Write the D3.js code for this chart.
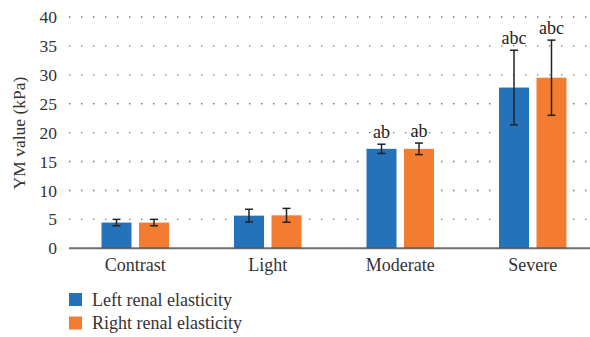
<!DOCTYPE html>
<html>
<head>
<meta charset="utf-8">
<script src="https://cdn.jsdelivr.net/npm/d3@7"></script>
<style>
  html, body { margin: 0; padding: 0; background: #fff; }
  svg { display: block; }
</style>
</head>
<body>
<svg id="chart" width="590" height="337"></svg>
<script>
// Young's modulus of the kidneys by group
const categories = ["Contrast", "Light", "Moderate", "Severe"];
const seriesNames = ["Left renal elasticity", "Right renal elasticity"];
const leftValues = [4.45, 5.65, 17.2, 27.8];
const leftErrors = [0.55, 1.1, 0.8, 6.45];
const rightValues = [4.45, 5.7, 17.2, 29.5];
const rightErrors = [0.55, 1.2, 1.0, 6.5];
const leftMarks = ["", "", "ab", "abc"];
const rightMarks = ["", "", "ab", "abc"];
const yTicks = [0, 5, 10, 15, 20, 25, 30, 35, 40];
const colors = ["#2473BA", "#F47C30"];

const FONT = '"Liberation Serif", "Times New Roman", serif';
const TEXT = "#333";

const svg = d3.select("#chart");
const plotTop = 17, plotBottom = 248.3;

const x = d3.scaleBand().domain(categories).range([69, 599]);
const y = d3.scaleLinear().domain([0, 40]).range([plotBottom, plotTop]);
const barW = 30, gap = 7.5;

// dotted gridlines
svg.append("g").selectAll("line").data(yTicks.filter(d => d > 0)).join("line")
  .attr("x1", 69).attr("x2", 590)
  .attr("y1", d => y(d)).attr("y2", d => y(d))
  .attr("stroke", "#777").attr("stroke-width", 1.4)
  .attr("stroke-dasharray", "1.4,10.6");

// y tick labels
const yAxis = d3.axisLeft(y).tickValues(yTicks).tickSize(0).tickPadding(0);
const gy = svg.append("g").attr("transform", "translate(57,0)").call(yAxis);
gy.select(".domain").remove();
gy.selectAll("text").attr("font-size", 17.5).attr("fill", TEXT)
  .style("font-family", FONT);

// bars
const series = [
  { vals: leftValues, errs: leftErrors, marks: leftMarks, offset: -(gap / 2 + barW) },
  { vals: rightValues, errs: rightErrors, marks: rightMarks, offset: gap / 2 }
];
series.forEach((s, si) => {
  const g = svg.append("g");
  categories.forEach((c, i) => {
    const bx = x(c) + x.bandwidth() / 2 + s.offset;
    g.append("rect").attr("x", bx).attr("width", barW)
      .attr("y", y(s.vals[i])).attr("height", plotBottom - y(s.vals[i]))
      .attr("fill", colors[si]);
  });
});

// x axis line
svg.append("line").attr("x1", 69).attr("x2", 590)
  .attr("y1", plotBottom).attr("y2", plotBottom)
  .attr("stroke", "#555").attr("stroke-width", 2).attr("opacity", 0.85);

// error bars and significance marks
series.forEach((s) => {
  const g = svg.append("g");
  categories.forEach((c, i) => {
    const ex = x(c) + x.bandwidth() / 2 + s.offset + barW / 2;
    const top = y(s.vals[i] + s.errs[i]);
    const bot = y(s.vals[i] - s.errs[i]);
    g.append("line").attr("x1", ex).attr("x2", ex).attr("y1", top).attr("y2", bot)
      .attr("stroke", "#222").attr("stroke-width", 1.5);
    [top, bot].forEach(yy => g.append("line")
      .attr("x1", ex - 4).attr("x2", ex + 4).attr("y1", yy).attr("y2", yy)
      .attr("stroke", "#222").attr("stroke-width", 1.5));
    if (s.marks[i]) {
      g.append("text").attr("x", ex).attr("y", top - 6.5)
        .attr("text-anchor", "middle").attr("font-size", 18).attr("fill", "#222")
        .style("font-family", FONT)
        .text(s.marks[i]);
    }
  });
});

// category labels
svg.append("g").selectAll("text").data(categories).join("text")
  .attr("x", d => x(d) + x.bandwidth() / 2).attr("y", 271)
  .attr("text-anchor", "middle").attr("font-size", 18).attr("fill", TEXT)
  .style("font-family", FONT)
  .text(d => d);

// y axis title
svg.append("text").attr("transform", "translate(25,133) rotate(-90)")
  .attr("text-anchor", "middle").attr("font-size", 17.5).attr("fill", TEXT)
  .style("font-family", FONT)
  .text("YM value (kPa)");

// legend
const lg = svg.append("g");
seriesNames.forEach((n, i) => {
  const ly = 293 + i * 23.5;
  lg.append("rect").attr("x", 69).attr("y", ly).attr("width", 13).attr("height", 13).attr("fill", colors[i]);
  lg.append("text").attr("x", 92).attr("y", ly + 12.5).attr("font-size", 18).attr("fill", TEXT)
    .style("font-family", FONT).text(n);
});
</script>
</body>
</html>
